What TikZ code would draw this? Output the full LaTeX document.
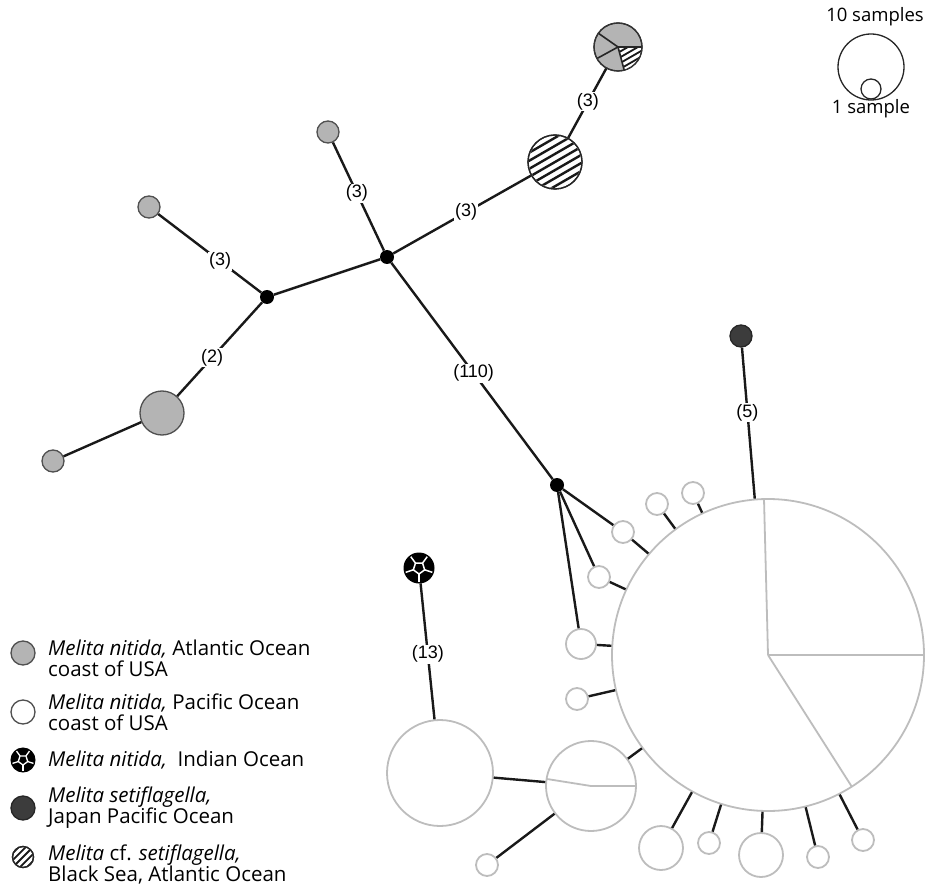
\documentclass[tikz,border=0pt]{standalone}
\usepackage{fontspec}
\setmainfont{Open Sans}
\newfontfamily\labfont{Liberation Sans}
\usetikzlibrary{calc}
\definecolor{grayfill}{HTML}{B4B4B4}
\definecolor{grayedge}{HTML}{505050}
\definecolor{whiteedge}{HTML}{BDBDBD}
\definecolor{darknode}{HTML}{3C3C3C}
\begin{document}
\begin{tikzpicture}[x=1pt,y=-1pt,
  edge/.style={line width=2.4pt, draw=black!90},
  gnode/.style={circle, fill=grayfill, draw=grayedge, line width=1.3pt, minimum size=#1, inner sep=0pt},
  wnode/.style={circle, fill=white, draw=whiteedge, line width=1.8pt, minimum size=#1, inner sep=0pt},
  dnode/.style={circle, fill=darknode, draw=black!85, line width=1.3pt, minimum size=#1, inner sep=0pt},
  bnode/.style={circle, fill=black, draw=black, line width=1pt, minimum size=#1, inner sep=0pt},
  hnode/.style={circle, fill=white, draw=black!85, line width=1.3pt, minimum size=#1, inner sep=0pt},
  jn/.style={circle, fill=black, minimum size=14pt, inner sep=0pt},
  lab/.style={fill=white, inner sep=1.2pt, font=\labfont\fontsize{18}{18}\selectfont},
  legtext/.style={anchor=west, align=left, inner sep=0pt, font=\fontsize{20.5}{21}\selectfont},
  pieline/.style={draw=whiteedge, line width=1.8pt},
  hatch/.style={line width=2.4pt, black!90}
]
\useasboundingbox (0,0) rectangle (926,885);

% ---------- nodes ----------
\node[gnode=22pt] (gT) at (328,132) {};
\node[gnode=22pt] (gL) at (149,207) {};
\node[gnode=44pt] (gB) at (162,413) {};
\node[gnode=22pt] (gBL) at (53,461) {};
\node[jn] (j1) at (267,297) {};
\node[jn] (j2) at (387,257) {};
\node[jn] (j3) at (557,485) {};
\node[hnode=54pt] (hc) at (555,162) {};
\node[gnode=48pt, draw=black!80] (pie) at (618,47) {};
\node[dnode=22pt] (jp) at (741,336) {};
\node[bnode=30pt] (io) at (419,568) {};

\node[wnode=312pt] (big) at (768,655) {};
\node[wnode=22pt] (w1) at (693,493) {};
\node[wnode=22pt] (w2) at (657,504) {};
\node[wnode=22pt] (w3) at (623,532) {};
\node[wnode=22pt] (w4) at (599,577) {};
\node[wnode=30pt] (w5) at (581,644) {};
\node[wnode=22pt] (w6) at (577,699) {};
\node[wnode=90pt] (med) at (591,786) {};
\node[wnode=106pt] (left) at (440,773) {};
\node[wnode=22pt] (bl) at (487,865) {};
\node[wnode=44pt] (b1) at (661,848) {};
\node[wnode=22pt] (b2) at (709,843) {};
\node[wnode=44pt] (b3) at (761,855) {};
\node[wnode=22pt] (b4) at (818,857) {};
\node[wnode=22pt] (b5) at (863,840) {};

% ---------- pie slices ----------
\draw[pieline] (big.center) -- ++(-4,-156);
\draw[pieline] (big.center) -- ++(156,0);
\draw[pieline] (big.center) -- ++(84,132);
\draw[pieline] (med.center) -- ++(44,0);
\draw[pieline] (med.center) -- ++(-44,-7);

% hatched circle
\begin{scope}
  \clip (hc.center) circle[radius=26];
  \foreach \k in {-5,...,5}
    \draw[hatch] ($(hc.center)+({\k*7*0.5-40*0.866},{\k*7*0.866+40*0.5})$) -- ($(hc.center)+({\k*7*0.5+40*0.866},{\k*7*0.866-40*0.5})$);
\end{scope}
\draw[black!85, line width=1.3pt] (hc.center) circle[radius=27];

% top pie with hatched wedge
\begin{scope}
  \clip (pie.center) circle[radius=23.5];
  \clip (pie.center) -- ++(30,0) -- ++(0,30) -- ++(-22,0) -- cycle;
  \fill[white] (pie.center) circle[radius=24];
  \foreach \k in {-4,...,4}
    \draw[line width=1.8pt, black!90] ($(pie.center)+({\k*5*0.5-40*0.866},{\k*5*0.866+40*0.5})$) -- ($(pie.center)+({\k*5*0.5+40*0.866},{\k*5*0.866-40*0.5})$);
\end{scope}
\draw[black!85, line width=1.6pt] (pie.center) -- ++(24,0);
\draw[black!85, line width=1.6pt] (pie.center) -- ++(6.2,23.2);
\draw[black!85, line width=1.6pt] (pie.center) -- ++(-19.7,-13.8);
\draw[black!85, line width=1.6pt] (pie.center) -- ++(-21,11.5);
\draw[black!80, line width=1.3pt] (pie.center) circle[radius=24];

% Indian Ocean pattern
\draw[white, line width=1.5pt] (io.center) +(90:6) -- +(162:6) -- +(234:6) -- +(306:6) -- +(18:6) -- cycle;
\foreach \a in {90,162,234,306,18}
  \draw[white, line width=1.5pt] (io.center) +(\a:6) -- +(\a:14);

% ---------- edges ----------
\draw[edge] (gL) -- node[lab, pos=0.6]{(3)} (j1);
\draw[edge] (j1) -- node[lab, pos=0.59]{(2)} (gB);
\draw[edge] (gB) -- (gBL);
\draw[edge] (j1) -- (j2);
\draw[edge] (gT) -- node[lab, pos=0.47]{(3)} (j2);
\draw[edge] (j2) -- node[lab, pos=0.53]{(3)} (hc);
\draw[edge] (hc) -- node[lab, pos=0.52]{(3)} (pie);
\draw[edge] (j2) -- node[lab, pos=0.51]{(110)} (j3);
\draw[edge] (jp) -- node[lab, pos=0.43]{(5)} (big);
\draw[edge] (io) -- node[lab, pos=0.52]{(13)} (left);
\draw[edge] (j3) -- (w3);
\draw[edge] (j3) -- (w4);
\draw[edge] (j3) -- (w5);
\foreach \n in {w1,w2,w3,w4,w5,w6,med,b1,b2,b3,b4,b5}
  \draw[edge] (\n) -- (big);
\draw[edge] (left) -- (med);
\draw[edge] (bl) -- (med);

% ---------- size legend ----------
\node[circle, draw=black!85, line width=1.3pt, minimum size=66pt, inner sep=0pt] (ten) at (871,67) {};
\node[circle, draw=black!85, line width=1.3pt, minimum size=20pt, inner sep=0pt] (one) at (871,89) {};
\node[font=\fontsize{18.5}{18.5}\selectfont, inner sep=0pt] (tenl) at (875,17) {10 samples};
\node[font=\fontsize{18.5}{18.5}\selectfont, inner sep=0pt] (onel) at (871,109) {1 sample};

% ---------- colour legend ----------
\node[gnode=24pt] (lg1) at (23,653) {};
\node[circle, fill=white, draw=grayedge, line width=1.3pt, minimum size=24pt, inner sep=0pt] (lg2) at (23,712) {};
\node[bnode=24pt] (lg3) at (23,760) {};
\draw[white, line width=1.3pt] (lg3.center) +(90:5) -- +(162:5) -- +(234:5) -- +(306:5) -- +(18:5) -- cycle;
\foreach \a in {90,162,234,306,18}
  \draw[white, line width=1.3pt] (lg3.center) +(\a:5) -- +(\a:11);
\node[dnode=24pt] (lg4) at (23,808) {};
\node[hnode=21pt] (lg5) at (23,857) {};
\begin{scope}
  \clip (lg5.center) circle[radius=10];
  \foreach \k in {-3,...,3}
    \draw[line width=1.8pt, black!90] ($(lg5.center)+({\k*5*0.7-20*0.707},{\k*5*0.707+20*0.707})$) -- ($(lg5.center)+({\k*5*0.707+20*0.707},{\k*5*0.707-20*0.707})$);
\end{scope}
\draw[black!85, line width=1.3pt] (lg5.center) circle[radius=10.5];

\node[legtext] (t1) at (48,658) {\textit{Melita nitida,} Atlantic Ocean\\coast of USA};
\node[legtext] (t2) at (48,712) {\textit{Melita nitida,} Pacific Ocean\\coast of USA};
\node[legtext] (t3) at (48,760) {\textit{Melita nitida,}\ \ Indian Ocean};
\node[legtext] (t4) at (48,808) {\textit{Melita setiflagella,}\\Japan Pacific Ocean};
\node[legtext] (t5) at (48,864) {\textit{Melita} cf. \textit{setiflagella,}\\Black Sea, Atlantic Ocean};
\end{tikzpicture}
\end{document}
